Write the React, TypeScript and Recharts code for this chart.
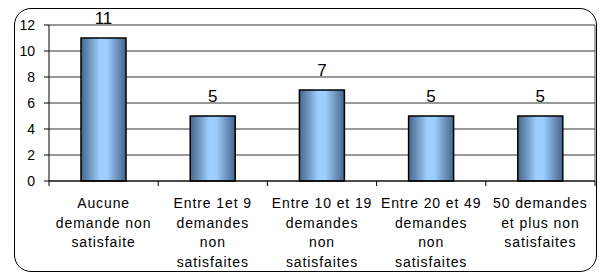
import React from "react";
import { BarChart, Bar, XAxis, YAxis, CartesianGrid, LabelList } from "recharts";

const categories = [
  "Aucune\ndemande non\nsatisfaite",
  "Entre 1et 9\ndemandes\nnon\nsatisfaites",
  "Entre 10 et 19\ndemandes\nnon\nsatisfaites",
  "Entre 20 et 49\ndemandes\nnon\nsatisfaites",
  "50 demandes\net plus non\nsatisfaites",
];
const values = [11, 5, 7, 5, 5];
const yTicks = [0, 2, 4, 6, 8, 10, 12];

const data = categories.map((c, i) => ({ name: c, value: values[i] }));

const FONT = "'Liberation Sans', Arial, sans-serif";
const PLOT_W = 546;
const BAND = PLOT_W / categories.length;

const XTick = (props: any) => {
  const { x, y, payload, index } = props;
  const lines = String(payload.value).split("\n");
  return (
    <g>
      <line x1={x - BAND / 2} x2={x - BAND / 2} y1={y} y2={y + 5} stroke="#000" strokeWidth={1} />
      {index === categories.length - 1 && (
        <line x1={x + BAND / 2} x2={x + BAND / 2} y1={y} y2={y + 5} stroke="#000" strokeWidth={1} />
      )}
      <text
        x={x}
        y={y}
        textAnchor="middle"
        fontFamily={FONT}
        fontSize={14}
        letterSpacing={0.9}
        fill="#000"
      >
        {lines.map((l, i) => (
          <tspan key={i} x={x} y={y + 27 + i * 19.7}>
            {l}
          </tspan>
        ))}
      </text>
    </g>
  );
};

export default function App() {
  return (
    <div style={{ position: "absolute", left: 0, top: 0, width: 605, height: 276, background: "#fff" }}>
      <div
        style={{
          position: "absolute",
          left: 14,
          top: 8,
          width: 583,
          height: 264,
          border: "1.5px solid #000",
          borderRadius: 17,
          boxSizing: "border-box",
        }}
      />
      <div style={{ position: "absolute", left: 0, top: 0 }}>
        <BarChart
          width={605}
          height={276}
          data={data}
          margin={{ top: 25, right: 0, bottom: 0, left: 0 }}
          barSize={45}
        >
          <defs>
            <linearGradient id="barGrad" x1="0" y1="0" x2="1" y2="0">
              <stop offset="0%" stopColor="#46668a" />
              <stop offset="20%" stopColor="#6f97c2" />
              <stop offset="42%" stopColor="#9fcfff" />
              <stop offset="58%" stopColor="#9ccdfd" />
              <stop offset="82%" stopColor="#6a90ba" />
              <stop offset="100%" stopColor="#46668a" />
            </linearGradient>
          </defs>
          <CartesianGrid yAxisId="l" vertical={false} stroke="#333" strokeWidth={1} />
          <XAxis
            dataKey="name"
            interval={0}
            height={95}
            tickLine={false}
            tickSize={0}
            tickMargin={0}
            axisLine={{ stroke: "#000", strokeWidth: 1 }}
            tick={<XTick />}
          />
          <YAxis
            yAxisId="l"
            width={49}
            domain={[0, 12]}
            ticks={yTicks}
            interval={0}
            tickSize={5}
            tickMargin={9}
            tickLine={{ stroke: "#000" }}
            axisLine={{ stroke: "#000" }}
            tick={{ fill: "#000", fontSize: 14, fontFamily: FONT }}
          />
          <YAxis
            yAxisId="r"
            orientation="right"
            width={10}
            domain={[0, 12]}
            ticks={yTicks}
            tick={false}
            tickLine={false}
            axisLine={{ stroke: "#555" }}
          />
          <Bar
            yAxisId="l"
            dataKey="value"
            fill="url(#barGrad)"
            stroke="#000"
            strokeWidth={1.5}
            isAnimationActive={false}
          >
            <LabelList
              dataKey="value"
              position="top"
              offset={14}
              fill="#000"
              fontSize={17}
              fontFamily={FONT}
            />
          </Bar>
        </BarChart>
      </div>
    </div>
  );
}
